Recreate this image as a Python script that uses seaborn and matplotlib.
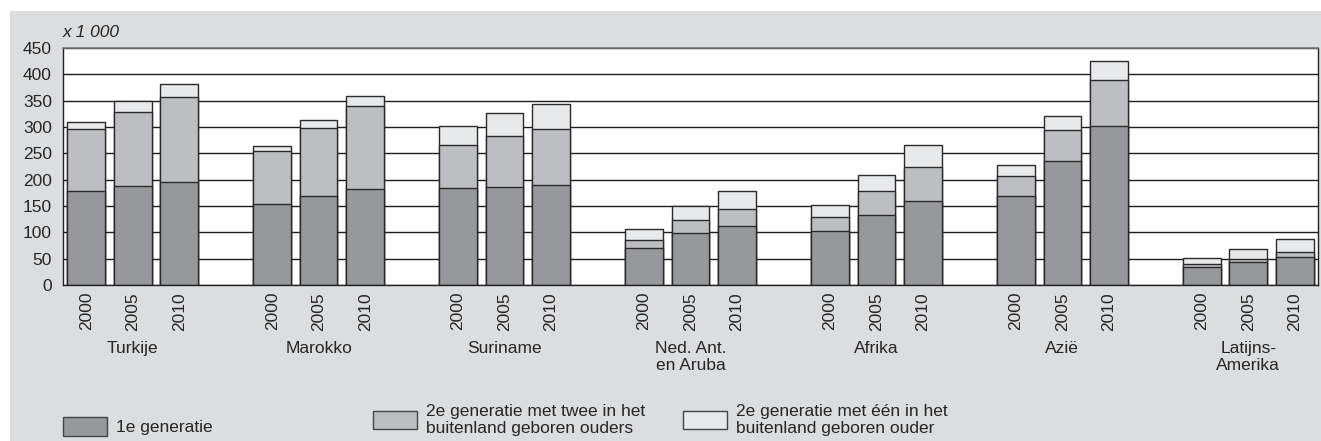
import numpy as np
import pandas as pd
import seaborn as sns
from matplotlib import pyplot as plt
from matplotlib.patches import Rectangle, Patch

regions = ["Turkije", "Marokko", "Suriname", "Ned. Ant.\nen Aruba", "Afrika", "Azië", "Latijns-\nAmerika"]
years = ["2000", "2005", "2010"]

# x 1 000, per region: 2000, 2005, 2010
eerste_gen = [178, 188, 195, 153, 169, 182, 184, 187, 190, 70, 99, 112,
              103, 133, 160, 169, 236, 301, 34, 43, 53]
tweede_twee = [118, 141, 162, 101, 130, 158, 82, 96, 106, 16, 24, 32,
               26, 45, 64, 38, 58, 88, 5, 7, 10]
tweede_een = [13, 20, 24, 10, 14, 18, 36, 44, 48, 21, 27, 34,
              23, 31, 41, 21, 26, 36, 13, 18, 24]

labels = ["1e generatie",
          "2e generatie met twee in het\nbuitenland geboren ouders",
          "2e generatie met één in het\nbuitenland geboren ouder"]
colors = ["#97989b", "#bdbec1", "#e8e9ea"]
edge = "#2a2a2a"

rows = []
for i, reg in enumerate(regions):
    for j, yr in enumerate(years):
        k = i * 3 + j
        rows.append({"slot": f"{reg} {yr}", "year": yr,
                     "eerste": eerste_gen[k], "twee": tweede_twee[k], "een": tweede_een[k]})
df = pd.DataFrame(rows)
df["lvl1"] = df["eerste"]
df["lvl2"] = df["eerste"] + df["twee"]
df["lvl3"] = df["lvl2"] + df["een"]

order = []
ticklabels = []
for i, reg in enumerate(regions):
    for yr in years:
        order.append(f"{reg} {yr}")
        ticklabels.append(yr)
    if i < len(regions) - 1:
        order.append(" " * (i + 1))
        ticklabels.append("")

sns.set_style("white")
plt.rcParams['font.family'] = ['Liberation Sans', 'DejaVu Sans']

fig = plt.figure(figsize=(13.21, 4.41), dpi=100)
fig.patches.append(Rectangle((10 / 1321, 0), 1, (441 - 11) / 441, transform=fig.transFigure,
                             facecolor="#dcdddf", edgecolor="none", zorder=-10))
ax = fig.add_axes([63 / 1321, 1 - 285 / 441, (1318 - 63) / 1321, (285 - 48) / 441])
ax.set_facecolor("white")

for col, c in zip(["lvl3", "lvl2", "lvl1"], colors[::-1]):
    sns.barplot(data=df, x="slot", y=col, order=order, color=c, saturation=1,
                width=0.81, edgecolor=edge, linewidth=1, errorbar=None, ax=ax)

ax.set_xlim(-0.5, len(order) - 0.5)
ax.set_ylim(0, 450)
ax.set_yticks(np.arange(0, 451, 50))
ax.set_xticks(range(len(order)))
ax.set_xticklabels(ticklabels, rotation=90, fontsize=12.5)
ax.tick_params(axis="y", length=0, pad=8, labelsize=12.5)
ax.tick_params(axis="x", length=0, pad=5)
ax.set_xlabel("")
ax.set_ylabel("")
ax.set_axisbelow(True)
ax.yaxis.grid(True, color="#1e1e1e", linewidth=1)
for s in ["left", "bottom", "right"]:
    ax.spines[s].set_color("#222222")
    ax.spines[s].set_linewidth(1)
ax.spines["top"].set_color("#777777")
ax.spines["top"].set_linewidth(1.2)

ax.text(0, 1.035, "x 1 000", transform=ax.transAxes, fontsize=12.5, style="italic",
        ha="left", va="bottom")

for i, reg in enumerate(regions):
    ax.text(i * 4 + 1, -0.235, reg, transform=ax.get_xaxis_transform(),
            ha="center", va="top", fontsize=12.5, linespacing=1.2)

for k, (lab, c) in enumerate(zip(labels, colors)):
    h = Patch(facecolor=c, edgecolor="#444444", linewidth=1)
    leg = fig.legend(handles=[h], labels=[lab], loc="lower left",
                     bbox_to_anchor=((63 + 310 * k) / 1321, 5 / 441), frameon=False,
                     borderpad=0, borderaxespad=0, handlelength=2.55, handleheight=1.28,
                     handletextpad=0.5, fontsize=12.5)
    for t in leg.get_texts():
        t.set_linespacing(1.2)

plt.savefig("out.png", dpi=100)
